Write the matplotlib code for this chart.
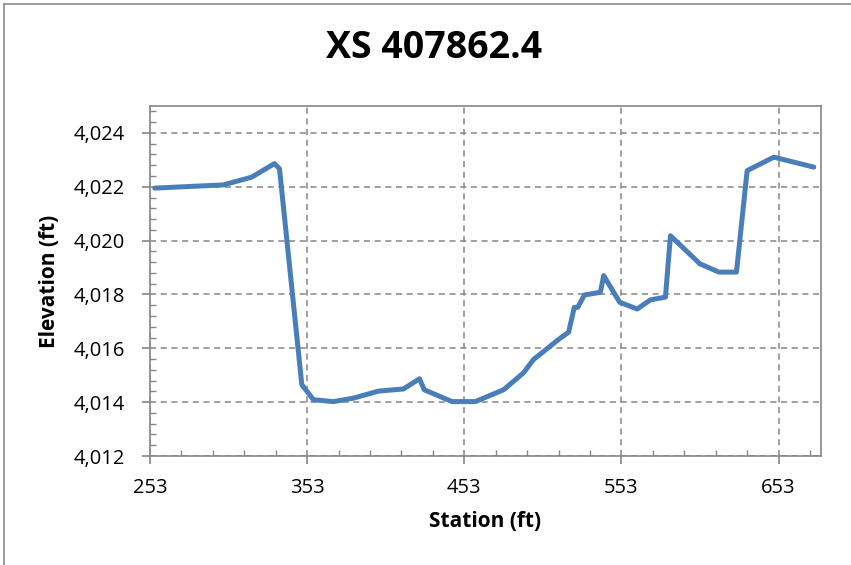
import matplotlib
matplotlib.use("Agg")
import matplotlib.pyplot as plt
from matplotlib.ticker import MultipleLocator, FuncFormatter, FixedLocator

station = [256, 299.7, 317.8, 332.2, 335.4, 349.6, 357, 369.7, 382.5, 398.4, 414.3,
           424.5, 427.5, 445.2, 460, 478, 490.7, 497, 513, 519.4, 523, 525.2, 529.4,
           539.6, 541.7, 551.9, 563, 571.5, 581, 584.2, 602.9, 615, 626.2, 633, 650, 675.4]
elevation = [4021.95, 4022.07, 4022.36, 4022.86, 4022.67, 4014.65, 4014.09, 4014.02,
             4014.15, 4014.41, 4014.49, 4014.87, 4014.46, 4014.02, 4014.02, 4014.46,
             4015.09, 4015.58, 4016.33, 4016.6, 4017.52, 4017.52, 4017.98, 4018.08,
             4018.7, 4017.71, 4017.46, 4017.8, 4017.9, 4020.18, 4019.14, 4018.83,
             4018.83, 4022.6, 4023.1, 4022.73]
x_ticks = [253, 353, 453, 553, 653]
y_ticks = [4012, 4014, 4016, 4018, 4020, 4022, 4024]
title = "XS 407862.4"
xlabel = "Station (ft)"
ylabel = "Elevation (ft)"

fam = ["Open Sans", "DejaVu Sans"]
fig = plt.figure(figsize=(8.51, 5.65), dpi=100)
ax = fig.add_axes([150/851, 1-456/565, (821-150)/851, (456-106)/565])

ax.plot(station, elevation, color="#4A7EBB", lw=3.6, solid_joinstyle="round",
        solid_capstyle="round", zorder=3)

ax.set_xlim(253, 680)
ax.set_ylim(4012, 4025)
ax.xaxis.set_major_locator(FixedLocator(x_ticks))
ax.xaxis.set_minor_locator(MultipleLocator(20, offset=253 % 20))
ax.yaxis.set_major_locator(FixedLocator(y_ticks))
ax.yaxis.set_minor_locator(MultipleLocator(0.4, offset=0))
ax.yaxis.set_major_formatter(FuncFormatter(lambda v, p: f"{v:,.0f}"))

gc = "#868686"
ax.grid(True, which="major", color=gc, linestyle=(0, (4, 3)), lw=1.1)
for s in ax.spines.values():
    s.set_color(gc)
    s.set_linewidth(1.2)
ax.tick_params(which="major", direction="out", length=6, color=gc, width=1.2,
               labelsize=14.5)
ax.tick_params(axis="x", which="major", pad=9.5)
ax.tick_params(axis="y", which="major", pad=12)
ax.tick_params(which="minor", direction="in", length=4, color=gc, width=1.0)
for lab in ax.get_xticklabels() + ax.get_yticklabels():
    lab.set_family(fam)

ax.set_xlabel(xlabel, fontsize=15, fontweight="bold", family=fam, labelpad=10)
ax.set_ylabel(ylabel, fontsize=15, fontweight="bold", family=fam, labelpad=10)
fig.text(434/851, 1-48/565, title, ha="center", va="center", fontsize=27,
         fontweight="bold", family=fam)

# outer chart border (top and left visible)
fig.add_artist(plt.Line2D([4/851, 1], [1-4/565, 1-4/565], color="#8c8c8c", lw=1.2,
                          transform=fig.transFigure))
fig.add_artist(plt.Line2D([4/851, 4/851], [0, 1-4/565], color="#8c8c8c", lw=1.2,
                          transform=fig.transFigure))

fig.savefig("out.png", dpi=100)
